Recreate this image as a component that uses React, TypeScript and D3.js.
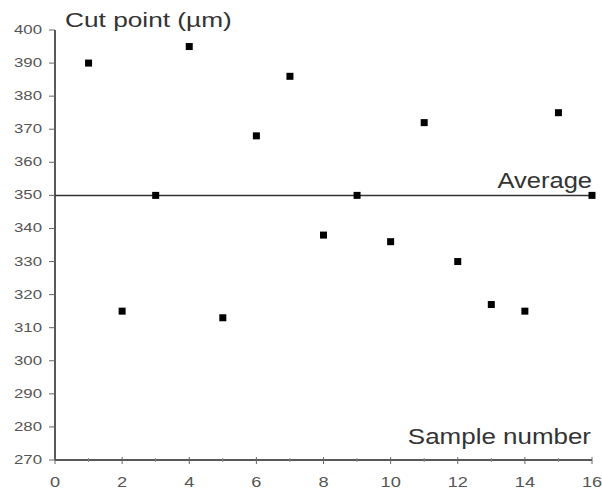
import { useEffect, useRef } from "react";
import * as d3 from "d3";

const samples = [1, 2, 3, 4, 5, 6, 7, 8, 9, 10, 11, 12, 13, 14, 15, 16];
const cutPoints = [390, 315, 350, 395, 313, 368, 386, 338, 350, 336, 372, 330, 317, 315, 375, 350];
const average = 350;
const xTicks = [0, 2, 4, 6, 8, 10, 12, 14, 16];
const xMinorTicks = [1, 3, 5, 7, 9, 11, 13, 15];
const yTicks = [270, 280, 290, 300, 310, 320, 330, 340, 350, 360, 370, 380, 390, 400];

const width = 602;
const height = 491;
const ink = "#222";
const font = "'Liberation Sans', Arial, sans-serif";

const App = () => {
  const svgRef = useRef<SVGSVGElement>(null);

  useEffect(() => {
    const svg = d3.select(svgRef.current);
    svg.selectAll("*").remove();

    const x = d3.scaleLinear().domain([0, 16]).range([55, 592]);
    const y = d3.scaleLinear().domain([270, 400]).range([460, 30]);

    // axes lines
    svg
      .append("line")
      .attr("x1", x(0))
      .attr("x2", x(0))
      .attr("y1", y(400))
      .attr("y2", y(270))
      .attr("stroke", ink)
      .attr("stroke-width", 1.5);
    svg
      .append("line")
      .attr("x1", x(0))
      .attr("x2", x(16))
      .attr("y1", y(270))
      .attr("y2", y(270))
      .attr("stroke", ink)
      .attr("stroke-width", 1.5);

    // y ticks
    svg
      .selectAll(".ytick")
      .data(yTicks)
      .join("line")
      .attr("x1", x(0) - 6)
      .attr("x2", x(0))
      .attr("y1", (d) => y(d))
      .attr("y2", (d) => y(d))
      .attr("stroke", "#666")
      .attr("stroke-width", 1);
    svg
      .selectAll(".ylab")
      .data(yTicks)
      .join("text")
      .attr("transform", (d) => `translate(42,${y(d) + 4}) scale(1.4,1)`)
      .attr("text-anchor", "end")
      .attr("font-family", font)
      .attr("font-size", 12)
      .attr("fill", "#555")
      .text((d) => d);

    // x ticks
    svg
      .selectAll(".xtick")
      .data(xTicks)
      .join("line")
      .attr("x1", (d) => x(d))
      .attr("x2", (d) => x(d))
      .attr("y1", y(270) - 3)
      .attr("y2", y(270) + 4)
      .attr("stroke", "#666")
      .attr("stroke-width", 1);
    svg
      .selectAll(".xminor")
      .data(xMinorTicks)
      .join("line")
      .attr("x1", (d) => x(d))
      .attr("x2", (d) => x(d))
      .attr("y1", y(270) - 2)
      .attr("y2", y(270) + 2)
      .attr("stroke", "#888")
      .attr("stroke-width", 1);
    svg
      .selectAll(".xlab")
      .data(xTicks)
      .join("text")
      .attr("transform", (d) => `translate(${x(d)},487) scale(1.3,1)`)
      .attr("text-anchor", "middle")
      .attr("font-family", font)
      .attr("font-size", 14)
      .attr("fill", "#555")
      .text((d) => d);

    // average line
    svg
      .append("line")
      .attr("x1", x(0))
      .attr("x2", x(16))
      .attr("y1", y(average))
      .attr("y2", y(average))
      .attr("stroke", "#333")
      .attr("stroke-width", 1.5);

    // points
    svg
      .selectAll(".pt")
      .data(samples)
      .join("rect")
      .attr("x", (d) => x(d) - 3.5)
      .attr("y", (d, i) => y(cutPoints[i]) - 3.5)
      .attr("width", 7)
      .attr("height", 7)
      .attr("fill", "#000");

    // labels
    svg
      .append("text")
      .attr("transform", "translate(65,27) scale(1.25,1)")
      .attr("font-family", font)
      .attr("font-size", 21)
      .attr("fill", "#333")
      .text("Cut point (\u00b5m)");
    svg
      .append("text")
      .attr("transform", "translate(591,444) scale(1.18,1)")
      .attr("text-anchor", "end")
      .attr("font-family", font)
      .attr("font-size", 22)
      .attr("fill", "#333")
      .text("Sample number");
    svg
      .append("text")
      .attr("transform", "translate(592,188) scale(1.16,1)")
      .attr("text-anchor", "end")
      .attr("font-family", font)
      .attr("font-size", 22)
      .attr("fill", "#333")
      .text("Average");
  }, []);

  return (
    <svg
      ref={svgRef}
      width={width}
      height={height}
      style={{ position: "absolute", left: 0, top: 0, background: "#fff" }}
    />
  );
};

export default App;
